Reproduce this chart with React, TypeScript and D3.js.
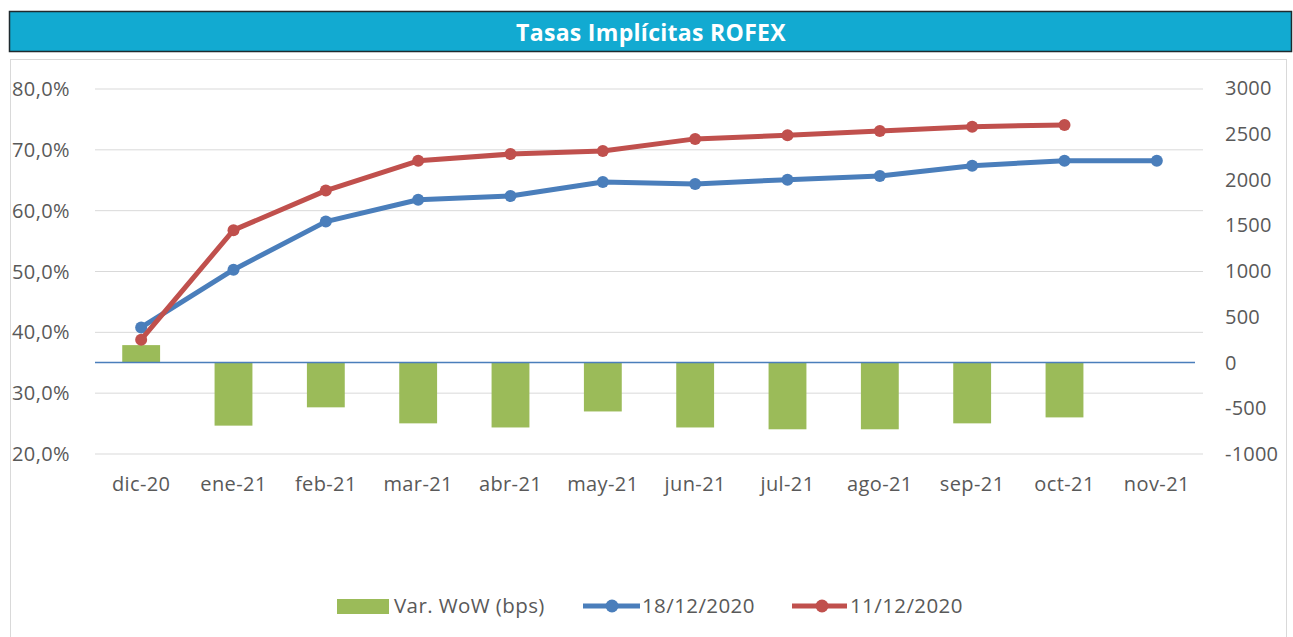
import React from 'react';
import * as d3 from 'd3';

const months = ['dic-20', 'ene-21', 'feb-21', 'mar-21', 'abr-21', 'may-21', 'jun-21', 'jul-21', 'ago-21', 'sep-21', 'oct-21', 'nov-21'];
const rate1812 = [40.8, 50.3, 58.2, 61.8, 62.4, 64.7, 64.4, 65.1, 65.7, 67.4, 68.2, 68.2];
const rate1112 = [38.8, 56.8, 63.3, 68.2, 69.3, 69.8, 71.8, 72.4, 73.1, 73.8, 74.1, null];
const varWoW = [190, -690, -490, -665, -710, -535, -710, -730, -730, -665, -600, null];
const leftTicks = [20, 30, 40, 50, 60, 70, 80];
const rightTicks = [-1000, -500, 0, 500, 1000, 1500, 2000, 2500, 3000];

const W = 1293, H = 637;
const font = '"Open Sans", Lato, sans-serif';
const labelColor = '#595959';
const blue = '#4A7EBB';
const red = '#C0504D';
const green = '#9BBB59';

export default function App() {
    const x = d3.scaleBand<string>().domain(months).range([95, 1203]);
    const yL = d3.scaleLinear().domain([20, 80]).range([454, 89]);
    const yR = d3.scaleLinear().domain([-1000, 3000]).range([454, 88]);
    const cx = (m: string) => (x(m) as number) + x.bandwidth() / 2;
    const barW = x.bandwidth() * 0.41;

    const line = d3.line<[string, number | null]>()
        .defined(d => d[1] != null)
        .x(d => cx(d[0]))
        .y(d => yL(d[1] as number));
    const s1 = months.map((m, i) => [m, rate1812[i]] as [string, number | null]);
    const s2 = months.map((m, i) => [m, rate1112[i]] as [string, number | null]);
    const fmt = (v: number) => v.toFixed(1).replace('.', ',') + '%';

    return (
        <svg width={W} height={H} style={{ position: 'absolute', left: 0, top: 0 }}>
            <rect x={0} y={0} width={W} height={H} fill="#fff" />
            {/* title bar */}
            <rect x={9.5} y={11.5} width={1282} height={40} fill="#12AAD1" stroke="#1f2a2e" strokeWidth={1.5} />
            <text x={651} y={41} textAnchor="middle" fill="#fff" fontFamily={font} fontWeight="bold" fontSize={23} letterSpacing={0.3}>
                Tasas Implícitas ROFEX
            </text>
            {/* chart frame */}
            <rect x={10.5} y={59.5} width={1276} height={600} fill="#fff" stroke="#d9d9d9" />
            {/* gridlines */}
            {leftTicks.map(t => (
                <line key={t} x1={95} x2={1203} y1={yL(t)} y2={yL(t)} stroke="#d9d9d9" strokeWidth={1} />
            ))}
            {/* left axis labels */}
            {leftTicks.map(t => (
                <text key={'l' + t} x={12} y={yL(t) + 7} fill={labelColor} fontFamily={font} fontSize={20} letterSpacing={0.4}>{fmt(t)}</text>
            ))}
            {/* right axis labels */}
            {rightTicks.map(t => (
                <text key={'r' + t} x={1225} y={yR(t) + 7} fill={labelColor} fontFamily={font} fontSize={20} letterSpacing={0.2}>{t}</text>
            ))}
            {/* bars */}
            {months.map((m, i) => varWoW[i] == null ? null : (
                <rect key={'b' + m} x={cx(m) - barW / 2} width={barW}
                    y={Math.min(yR(varWoW[i] as number), yR(0))}
                    height={Math.abs(yR(varWoW[i] as number) - yR(0))}
                    fill={green} />
            ))}
            {/* zero line */}
            <line x1={95} x2={1195} y1={yR(0)} y2={yR(0)} stroke={blue} strokeWidth={1.5} />
            {/* lines */}
            <path d={line(s1) || ''} fill="none" stroke={blue} strokeWidth={5} strokeLinejoin="round" />
            {s1.filter(d => d[1] != null).map(d => (
                <circle key={'c1' + d[0]} cx={cx(d[0])} cy={yL(d[1] as number)} r={6} fill={blue} />
            ))}
            <path d={line(s2) || ''} fill="none" stroke={red} strokeWidth={5} strokeLinejoin="round" />
            {s2.filter(d => d[1] != null).map(d => (
                <circle key={'c2' + d[0]} cx={cx(d[0])} cy={yL(d[1] as number)} r={6} fill={red} />
            ))}
            {/* x labels */}
            {months.map(m => (
                <text key={'x' + m} x={cx(m)} y={491} textAnchor="middle" fill={labelColor} fontFamily={font} fontSize={20} letterSpacing={0.4}>{m}</text>
            ))}
            {/* legend */}
            <g fontFamily={font} fontSize={20.5} letterSpacing={0.4} fill={labelColor}>
                <rect x={337} y={599} width={52} height={15} fill={green} />
                <text x={394} y={613}>Var. WoW (bps)</text>
                <line x1={583} x2={640} y1={606} y2={606} stroke={blue} strokeWidth={5} />
                <circle cx={612} cy={606} r={6.5} fill={blue} />
                <text x={642} y={613}>18/12/2020</text>
                <line x1={792} x2={847} y1={606} y2={606} stroke={red} strokeWidth={5} />
                <circle cx={822} cy={606} r={6.5} fill={red} />
                <text x={850} y={613}>11/12/2020</text>
            </g>
        </svg>
    );
}
